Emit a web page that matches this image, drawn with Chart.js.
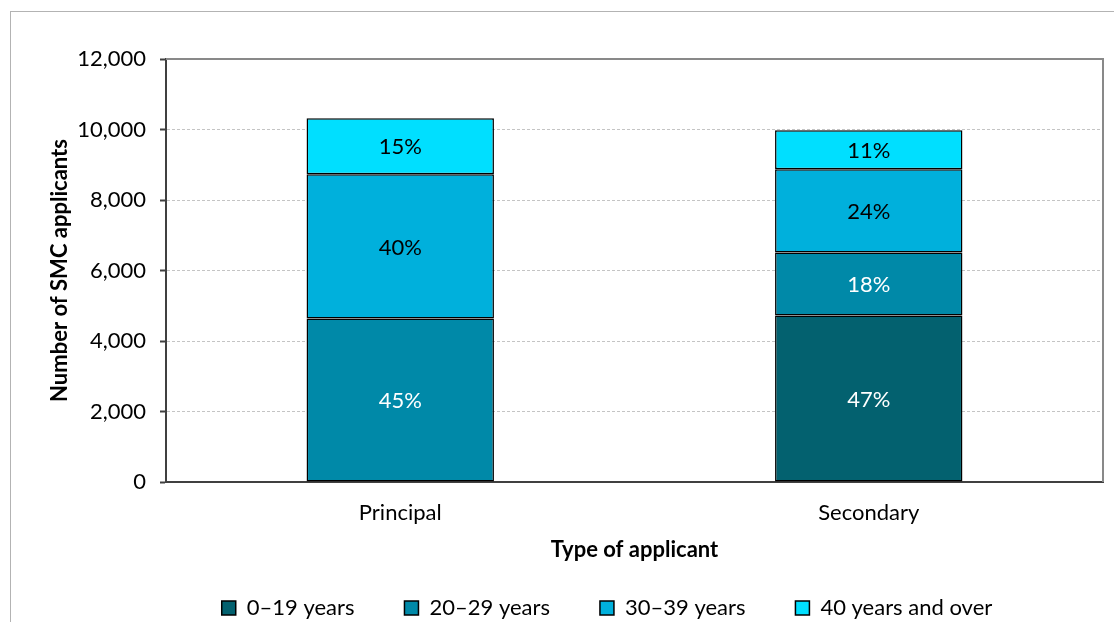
<!DOCTYPE html>
<html>
<head>
<meta charset="utf-8">
<script src="https://cdn.jsdelivr.net/npm/chart.js@4.4.1/dist/chart.umd.min.js"></script>
<style>
  html, body { margin: 0; padding: 0; background: #fff; overflow: hidden; width: 1114px; height: 622px; }
  #frame { position: absolute; left: 10px; top: 11px; width: 1200px; height: 700px; border: 1px solid #b3b3b3; }
  #chart { display: block; }
</style>
</head>
<body>
<div id="frame"><canvas id="chart" width="1200" height="700"></canvas></div>
<script>
// chart data
const categories = ['Principal', 'Secondary'];
const seriesNames = ['0\u201319 years', '20\u201329 years', '30\u201339 years', '40 years and over'];
const age0to19 = [null, 4720];
const age20to29 = [4635, 1791];
const age30to39 = [4094, 2360];
const age40plus = [1593, 1109];
const yTicks = [0, 2000, 4000, 6000, 8000, 10000, 12000];

const seriesColors = ['#03616f', '#0089a8', '#00b0dc', '#00dfff'];
const labelColors = ['#ffffff', '#ffffff', '#000000', '#000000'];
const fontFamily = 'Lato, "Open Sans", sans-serif';

Chart.defaults.font.family = fontFamily;
Chart.defaults.color = '#000';

// percentage labels in the middle of each bar segment
const percentLabels = {
    id: 'percentLabels',
    afterDatasetsDraw(chart) {
        let ctx = chart.ctx;
        let sets = chart.data.datasets;
        ctx.save();
        ctx.font = '22px ' + fontFamily;
        ctx.textAlign = 'center';
        ctx.textBaseline = 'middle';
        sets.forEach((ds, i) => {
            let meta = chart.getDatasetMeta(i);
            meta.data.forEach((bar, j) => {
                let v = ds.data[j];
                if (!v) return;
                let total = 0;
                sets.forEach(s => { total += s.data[j] || 0; });
                ctx.fillStyle = labelColors[i];
                ctx.fillText(Math.round(v / total * 100) + '%', bar.x, (bar.y + bar.base) / 2 + 1);
            });
        });
        ctx.restore();
    }
};

// top and right edges of the plot area
const plotFrame = {
    id: 'plotFrame',
    beforeDatasetsDraw(chart) {
        let a = chart.chartArea;
        let ctx = chart.ctx;
        ctx.save();
        ctx.strokeStyle = '#898989';
        ctx.lineWidth = 2;
        ctx.beginPath();
        ctx.moveTo(a.left, a.top);
        ctx.lineTo(a.right, a.top);
        ctx.lineTo(a.right, a.bottom);
        ctx.stroke();
        ctx.restore();
    }
};

let canvas = document.getElementById('chart').getContext('2d');

let data = {
    labels: categories,
    datasets: [age0to19, age20to29, age30to39, age40plus].map((values, i) => ({
        label: seriesNames[i],
        data: values,
        backgroundColor: seriesColors[i],
        borderColor: '#000',
        borderWidth: 1.5,
        borderSkipped: false,
        categoryPercentage: 1,
        barPercentage: 0.4
    }))
};

let options = {
    responsive: false,
    animation: false,
    devicePixelRatio: 1,
    layout: {
        padding: { top: 47, right: 8, bottom: 83, left: 0 }
    },
    scales: {
        x: {
            stacked: true,
            grid: { display: false, drawTicks: false },
            border: { color: '#404040', width: 2 },
            ticks: { padding: 18, font: { size: 22 } },
            title: {
                display: true,
                text: 'Type of applicant',
                font: { size: 22, weight: 'bold' },
                padding: { top: 0, bottom: -16 }
            },
            afterFit: scale => { scale.height = 65; }
        },
        y: {
            stacked: true,
            min: 0,
            max: 12000,
            afterBuildTicks: scale => { scale.ticks = yTicks.map(v => ({ value: v })); },
            ticks: {
                padding: 14,
                font: { size: 22 },
                callback: v => v.toLocaleString('en-US')
            },
            grid: {
                color: c => c.tick && c.tick.value === 0 ? 'rgba(0,0,0,0)' : '#c4c4c4',
                lineWidth: 1,
                drawTicks: true,
                tickLength: 6,
                tickColor: '#404040',
                tickWidth: 2,
                tickBorderDash: []
            },
            border: { color: '#404040', width: 2, dash: [3, 2] },
            title: {
                display: true,
                text: 'Number of SMC applicants',
                font: { size: 22, weight: 'bold' },
                padding: { top: 36, bottom: 0 }
            },
            afterFit: scale => { scale.width = 155; }
        },
        // empty right-hand margin of the plot, so the legend centres on the whole chart
        yRight: {
            position: 'right',
            min: 0,
            max: 12000,
            grid: { display: false, drawTicks: false },
            border: { display: false },
            ticks: { display: false },
            afterFit: scale => { scale.width = 100; }
        }
    },
    plugins: {
        legend: {
            position: 'bottom',
            labels: {
                boxWidth: 14,
                boxHeight: 14,
                padding: 50,
                font: { size: 22 },
                color: '#000'
            }
        },
        tooltip: { enabled: false }
    }
};

new Chart(canvas, {
    type: 'bar',
    data: data,
    options: options,
    plugins: [percentLabels, plotFrame]
});
</script>
</body>
</html>
